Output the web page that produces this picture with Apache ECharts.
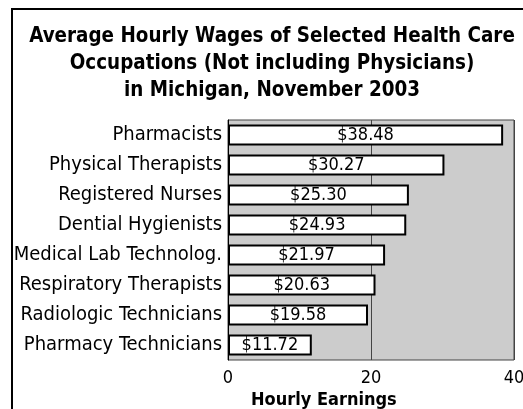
<!DOCTYPE html>
<html>
<head>
<meta charset="utf-8">
<script src="https://cdn.jsdelivr.net/npm/echarts@6/dist/echarts.min.js"></script>
<style>
html, body { margin: 0; padding: 0; background: #fff; }
#chart { width: 523px; height: 409px; }
</style>
</head>
<body>
<div id="chart"></div>
<script>
// 数据
var occupations = ['Pharmacists', 'Physical Therapists', 'Registered Nurses', 'Dential Hygienists',
    'Medical Lab Technolog.', 'Respiratory Therapists', 'Radiologic Technicians', 'Pharmacy Technicians'];
var wages = [38.48, 30.27, 25.30, 24.93, 21.97, 20.63, 19.58, 11.72];
var axisTicks = [0, 20, 40];

var narrow = '"Liberation Sans Narrow", "DejaVu Sans Condensed", "Liberation Sans", sans-serif';

var chart = echarts.init(document.getElementById('chart'));

var option = {
    backgroundColor: '#fff',
    animation: false,
    title: [
        {
            text: 'Average Hourly Wages of Selected Health Care\nOccupations (Not including Physicians)\nin Michigan, November 2003',
            left: 267,
            top: 18,
            textAlign: 'center',
            textStyle: {
                color: '#000',
                fontFamily: narrow,
                fontWeight: 'bold',
                fontSize: 20.4,
                lineHeight: 27
            }
        },
        {
            text: 'Hourly Earnings',
            left: 246,
            top: 386,
            textStyle: {
                color: '#000',
                fontFamily: narrow,
                fontWeight: 'bold',
                fontSize: 18
            }
        }
    ],
    graphic: [
        {
            type: 'polyline',
            shape: { points: [[12, 420], [12, 9], [530, 9]] },
            style: { stroke: '#000', lineWidth: 2, fill: null }
        }
    ],
    grid: {
        left: 228,
        right: 9,
        top: 120,
        bottom: 49,
        outerBoundsMode: 'none',
        show: true,
        backgroundColor: '#cccccc',
        borderColor: '#444',
        borderWidth: 1
    },
    xAxis: {
        type: 'value',
        min: 0,
        max: 40,
        interval: 20,
        axisLine: { show: false },
        axisTick: { show: false },
        splitLine: { show: true, lineStyle: { color: '#444', width: 1 } },
        axisLabel: {
            color: '#000',
            fontFamily: narrow,
            fontSize: 18,
            margin: 9,
            formatter: function (v) { return axisTicks.indexOf(v) >= 0 ? String(v) : ''; }
        }
    },
    yAxis: {
        type: 'category',
        inverse: true,
        data: occupations,
        axisLine: { show: true, lineStyle: { color: '#000', width: 1 } },
        axisTick: { show: false },
        axisLabel: {
            color: '#000',
            fontFamily: narrow,
            fontSize: 20,
            margin: 6
        }
    },
    series: [
        {
            type: 'bar',
            data: wages,
            barWidth: 21,
            itemStyle: {
                color: '#fff',
                borderColor: '#000',
                borderWidth: 2
            },
            label: {
                show: true,
                position: 'inside',
                color: '#000',
                fontFamily: narrow,
                fontSize: 18,
                formatter: function (p) { return '$' + p.value.toFixed(2); }
            }
        }
    ]
};
chart.setOption(option);
</script>
</body>
</html>
